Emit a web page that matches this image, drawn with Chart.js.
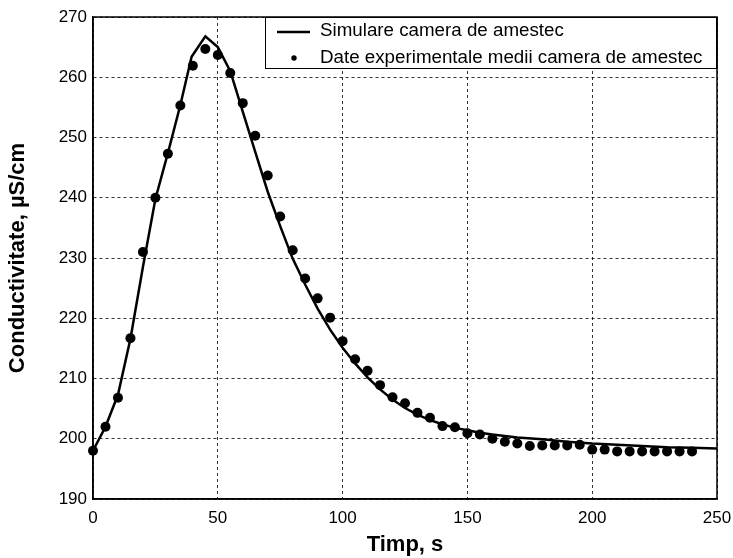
<!DOCTYPE html>
<html><head><meta charset="utf-8">
<script src="https://cdn.jsdelivr.net/npm/chart.js@4.4.1/dist/chart.umd.min.js"></script>
<style>html,body{margin:0;padding:0;background:#fff;}canvas{display:block;}</style>
</head><body>
<canvas id="c" width="733" height="558"></canvas>
<script>
// ---- data ----
const simTime   = [0, 5, 10, 15, 20, 25, 30, 35, 39.5, 45, 50, 55, 60, 65, 70, 75, 80, 85, 90, 95, 100, 105, 110, 115, 120, 125, 130, 135, 140, 145, 150, 155, 160, 170, 180, 190, 200, 210, 220, 230, 240, 250];
const simValues = [198, 202, 207.3, 216.6, 228.5, 239.8, 247.4, 255.4, 263.4, 266.8, 265.0, 261.0, 254.3, 247.6, 241.0, 235.3, 229.9, 225.6, 221.6, 218.1, 215.1, 212.5, 210.2, 208.2, 206.5, 205.1, 204.0, 203.1, 202.4, 201.8, 201.4, 201.0, 200.7, 200.2, 199.9, 199.5, 199.2, 199.0, 198.8, 198.6, 198.5, 198.4];
const expTime   = [0, 5, 10, 15, 20, 25, 30, 35, 40, 45, 50, 55, 60, 65, 70, 75, 80, 85, 90, 95, 100, 105, 110, 115, 120, 125, 130, 135, 140, 145, 150, 155, 160, 165, 170, 175, 180, 185, 190, 195, 200, 205, 210, 215, 220, 225, 230, 235, 240];
const expValues = [198, 202, 206.8, 216.7, 231, 240, 247.3, 255.3, 261.9, 264.7, 263.7, 260.7, 255.7, 250.3, 243.7, 236.9, 231.3, 226.6, 223.3, 220.1, 216.2, 213.2, 211.3, 208.9, 206.9, 205.9, 204.3, 203.5, 202.1, 201.9, 200.9, 200.7, 200.0, 199.5, 199.2, 198.8, 198.9, 198.9, 198.9, 199.0, 198.2, 198.2, 197.9, 197.9, 197.9, 197.9, 197.9, 197.9, 197.9];
const xTicks = [0, 50, 100, 150, 200, 250];
const yTicks = [190, 200, 210, 220, 230, 240, 250, 260, 270];
const seriesNames = ['Simulare camera de amestec', 'Date experimentale medii camera de amestec'];
const xTitle = 'Timp, s';
const yTitle = 'Conductivitate, \u00B5S/cm';

const FONT = "'Liberation Sans', Arial, Helvetica, sans-serif";
Chart.defaults.font.family = FONT;
Chart.defaults.color = '#000';

const frame = {
  id: 'frame',
  beforeDatasetsDraw(chart) {
    const {ctx, chartArea: a} = chart;
    ctx.save();
    ctx.strokeStyle = '#000';
    ctx.lineWidth = 1.5;
    ctx.strokeRect(a.left, a.top, a.right - a.left, a.bottom - a.top);
    ctx.restore();
  }
};

const boxLegend = {
  id: 'boxLegend',
  afterDraw(chart) {
    const {ctx, chartArea: a} = chart;
    const ds = chart.data.datasets;
    const left = 265, right = a.right, top = a.top, bottom = 69;
    ctx.save();
    ctx.fillStyle = '#fff';
    ctx.fillRect(left, top, right - left, bottom - top);
    ctx.strokeStyle = '#000';
    ctx.lineWidth = 1;
    ctx.strokeRect(left + 0.5, top + 0.5, right - left - 1, bottom - top - 1);
    ctx.lineWidth = 1.5;
    ctx.beginPath();
    ctx.moveTo(right, top);
    ctx.lineTo(right, bottom);
    ctx.stroke();
    const rows = [31, 57.5];
    ctx.strokeStyle = ds[0].borderColor;
    ctx.lineWidth = ds[0].borderWidth;
    ctx.beginPath();
    ctx.moveTo(277, rows[0] + 1);
    ctx.lineTo(310, rows[0] + 1);
    ctx.stroke();
    ctx.fillStyle = ds[1].pointBackgroundColor;
    ctx.beginPath();
    ctx.arc(294, rows[1] + 0.5, 2.7, 0, Math.PI * 2);
    ctx.fill();
    ctx.fillStyle = '#000';
    ctx.font = '18.75px ' + FONT;
    ctx.textBaseline = 'middle';
    ctx.textAlign = 'left';
    ctx.fillText(ds[0].label, 320, rows[0]);
    ctx.fillText(ds[1].label, 320, rows[1]);
    ctx.restore();
  }
};

new Chart(document.getElementById('c'), {
  type: 'scatter',
  data: {
    datasets: [
      {
        label: seriesNames[0],
        data: simTime.map((t, i) => ({x: t, y: simValues[i]})),
        showLine: true,
        borderColor: '#000',
        borderWidth: 2.5,
        pointRadius: 0,
        tension: 0,
        order: 1
      },
      {
        label: seriesNames[1],
        data: expTime.map((t, i) => ({x: t, y: expValues[i]})),
        showLine: false,
        clip: false,
        pointRadius: 5,
        pointBorderWidth: 0,
        pointBackgroundColor: '#000',
        backgroundColor: '#000',
        borderColor: '#000',
        order: 0
      }
    ]
  },
  options: {
    responsive: false,
    animation: false,
    events: [],
    layout: {padding: {top: 17, right: 16, left: 0, bottom: 0}},
    plugins: {legend: {display: false}, tooltip: {enabled: false}},
    scales: {
      x: {
        type: 'linear',
        min: 0, max: 250,
        afterBuildTicks: s => { s.ticks = xTicks.map(v => ({value: v})); },
        afterFit: s => { s.height = 59; s.paddingLeft = 0; s.paddingRight = 0; },
        ticks: {font: {size: 17}, color: '#000', padding: 9, maxRotation: 0},
        grid: {color: 'rgba(0,0,0,0.8)', lineWidth: 1, drawTicks: false, tickLength: 0},
        border: {display: true, color: '#000', width: 1.5, dash: [3, 3]},
        title: {display: true, text: xTitle, font: {size: 22, weight: 'bold'}, color: '#000', padding: {top: 0, bottom: 0}}
      },
      y: {
        type: 'linear',
        min: 190, max: 270,
        afterBuildTicks: s => { s.ticks = yTicks.map(v => ({value: v})); },
        afterFit: s => { s.width = 93; s.paddingTop = 0; s.paddingBottom = 0; },
        ticks: {font: {size: 17}, color: '#000', padding: 6},
        grid: {color: 'rgba(0,0,0,0.8)', lineWidth: 1, drawTicks: false, tickLength: 0},
        border: {display: true, color: '#000', width: 1.5, dash: [3, 3]},
        title: {display: true, text: yTitle, font: {size: 22, weight: 'bold'}, color: '#000', padding: {top: 5, bottom: 0}}
      }
    }
  },
  plugins: [frame, boxLegend]
});
</script>
</body></html>
